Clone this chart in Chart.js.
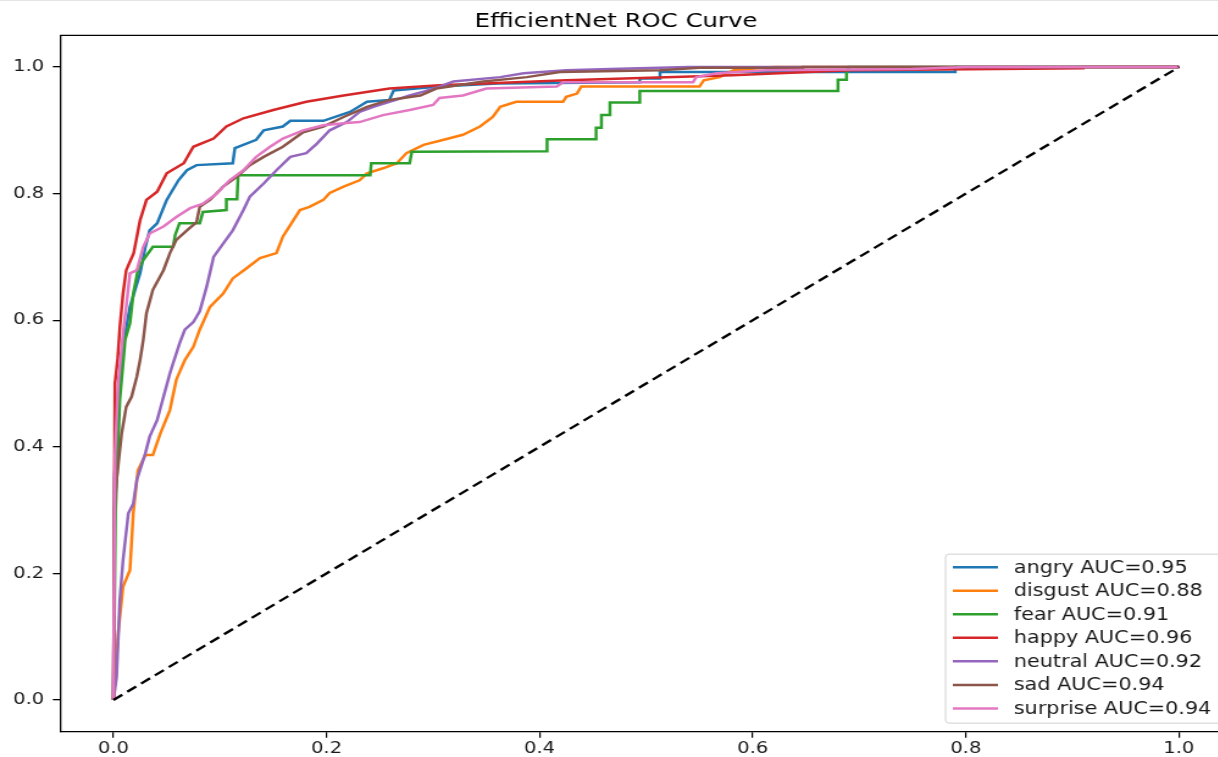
<!DOCTYPE html>
<html>
<head>
<meta charset="utf-8">
<script src="https://cdn.jsdelivr.net/npm/chart.js@4.4.0/dist/chart.umd.min.js"></script>
<style>
  html, body { margin: 0; padding: 0; background: #fff; overflow: hidden; }
  #wrap { position: absolute; left: 0; top: 0; width: 1020px; height: 757px; transform: scaleX(1.22); transform-origin: 0 0; }
  #topline { position: absolute; left: 0; top: 0; width: 1218px; height: 1px; background: #e4e4e4; }
</style>
</head>
<body>
<div id="wrap"><canvas id="roc" width="1020" height="757"></canvas></div>
<div id="topline"></div>
<script>
// class names and AUC values from the legend
const classNames = ['angry', 'disgust', 'fear', 'happy', 'neutral', 'sad', 'surprise'];
const aucValues = [0.95, 0.88, 0.91, 0.96, 0.92, 0.94, 0.94];
const lineColors = ['#1f77b4', '#ff7f0e', '#2ca02c', '#d62728', '#9467bd', '#8c564b', '#e377c2'];

const xTicks = [0.0, 0.2, 0.4, 0.6, 0.8, 1.0];
const yTicks = [0.0, 0.2, 0.4, 0.6, 0.8, 1.0];

// ROC points (false positive rate / true positive rate)
const angryFpr = [0, 0.001, 0.005, 0.010, 0.0155, 0.025, 0.030, 0.034, 0.041, 0.050, 0.061, 0.069, 0.078, 0.112, 0.114, 0.117, 0.134, 0.141, 0.159, 0.166, 0.197, 0.222, 0.238, 0.259, 0.263, 0.306, 0.360, 0.494, 0.494, 0.513, 0.513, 0.790, 0.790, 1];
const angryTpr = [0, 0.350, 0.500, 0.569, 0.621, 0.674, 0.716, 0.742, 0.753, 0.790, 0.821, 0.837, 0.845, 0.848, 0.872, 0.874, 0.885, 0.900, 0.906, 0.915, 0.915, 0.929, 0.945, 0.948, 0.963, 0.969, 0.974, 0.976, 0.982, 0.982, 0.992, 0.992, 1.0, 1];

const disgustFpr = [0, 0.0045, 0.009, 0.0155, 0.0186, 0.023, 0.030, 0.037, 0.044, 0.053, 0.059, 0.067, 0.075, 0.081, 0.0906, 0.103, 0.112, 0.125, 0.1375, 0.153, 0.159, 0.167, 0.175, 0.184, 0.197, 0.203, 0.216, 0.231, 0.238, 0.253, 0.266, 0.275, 0.291, 0.310, 0.328, 0.344, 0.356, 0.363, 0.378, 0.422, 0.425, 0.435, 0.439, 0.550, 0.554, 0.569, 0.582, 0.620, 1];
const disgustTpr = [0, 0.106, 0.179, 0.205, 0.295, 0.363, 0.387, 0.387, 0.421, 0.458, 0.506, 0.537, 0.558, 0.585, 0.621, 0.642, 0.666, 0.682, 0.698, 0.706, 0.732, 0.753, 0.774, 0.779, 0.790, 0.801, 0.811, 0.821, 0.832, 0.840, 0.848, 0.864, 0.877, 0.885, 0.893, 0.906, 0.921, 0.937, 0.945, 0.945, 0.953, 0.958, 0.969, 0.969, 0.979, 0.984, 0.995, 1.0, 1];

const fearFpr = [0, 0.002, 0.006, 0.011, 0.0155, 0.0186, 0.023, 0.028, 0.037, 0.056, 0.058, 0.062, 0.081, 0.084, 0.106, 0.106, 0.116, 0.117, 0.241, 0.242, 0.278, 0.280, 0.407, 0.407, 0.453, 0.453, 0.458, 0.458, 0.466, 0.466, 0.494, 0.494, 0.680, 0.680, 0.688, 0.688, 0.690, 1];
const fearTpr = [0, 0.300, 0.474, 0.569, 0.595, 0.642, 0.679, 0.695, 0.716, 0.716, 0.735, 0.753, 0.753, 0.771, 0.774, 0.791, 0.791, 0.829, 0.829, 0.848, 0.848, 0.866, 0.867, 0.886, 0.886, 0.904, 0.904, 0.924, 0.924, 0.944, 0.944, 0.962, 0.962, 0.980, 0.980, 0.990, 1.0, 1];

const happyFpr = [0, 0.001, 0.0014, 0.004, 0.0061, 0.009, 0.012, 0.019, 0.025, 0.031, 0.041, 0.050, 0.066, 0.075, 0.094, 0.106, 0.122, 0.150, 0.181, 0.216, 0.259, 0.306, 0.425, 0.581, 0.691, 0.910, 0.910, 1];
const happyTpr = [0, 0.350, 0.500, 0.540, 0.590, 0.642, 0.679, 0.706, 0.758, 0.790, 0.803, 0.832, 0.848, 0.874, 0.887, 0.906, 0.919, 0.932, 0.945, 0.955, 0.966, 0.971, 0.979, 0.987, 0.995, 0.998, 1.0, 1];

const neutralFpr = [0, 0.003, 0.006, 0.009, 0.014, 0.0186, 0.022, 0.026, 0.030, 0.034, 0.041, 0.047, 0.053, 0.056, 0.062, 0.067, 0.075, 0.081, 0.0875, 0.094, 0.103, 0.112, 0.122, 0.128, 0.141, 0.153, 0.166, 0.181, 0.191, 0.203, 0.219, 0.231, 0.244, 0.259, 0.278, 0.291, 0.306, 0.319, 0.363, 0.385, 0.425, 0.466, 0.540, 1];
const neutralTpr = [0, 0.037, 0.158, 0.221, 0.295, 0.310, 0.348, 0.369, 0.390, 0.416, 0.442, 0.479, 0.516, 0.532, 0.563, 0.585, 0.597, 0.614, 0.653, 0.700, 0.721, 0.742, 0.774, 0.795, 0.816, 0.837, 0.858, 0.864, 0.879, 0.900, 0.913, 0.929, 0.937, 0.945, 0.955, 0.961, 0.969, 0.977, 0.984, 0.990, 0.995, 0.997, 1.0, 1];

const sadFpr = [0, 0.001, 0.003, 0.0077, 0.012, 0.017, 0.022, 0.025, 0.028, 0.031, 0.037, 0.047, 0.053, 0.059, 0.069, 0.078, 0.081, 0.0906, 0.103, 0.116, 0.128, 0.141, 0.159, 0.178, 0.197, 0.216, 0.238, 0.259, 0.288, 0.303, 0.347, 0.388, 0.419, 0.513, 0.550, 0.647, 0.647, 1];
const sadTpr = [0, 0.305, 0.348, 0.421, 0.463, 0.479, 0.511, 0.537, 0.569, 0.611, 0.648, 0.679, 0.706, 0.727, 0.742, 0.755, 0.779, 0.790, 0.811, 0.827, 0.845, 0.858, 0.874, 0.897, 0.906, 0.921, 0.937, 0.948, 0.955, 0.966, 0.977, 0.984, 0.992, 0.995, 0.999, 0.999, 1.0, 1];

const surpriseFpr = [0, 0.0014, 0.0045, 0.009, 0.012, 0.0155, 0.022, 0.028, 0.034, 0.047, 0.059, 0.072, 0.084, 0.097, 0.109, 0.122, 0.134, 0.147, 0.159, 0.178, 0.197, 0.216, 0.231, 0.253, 0.278, 0.300, 0.306, 0.328, 0.350, 0.416, 0.422, 0.544, 0.547, 0.566, 0.613, 0.750, 0.800, 1];
const surpriseTpr = [0, 0.384, 0.500, 0.579, 0.621, 0.674, 0.679, 0.716, 0.737, 0.748, 0.763, 0.777, 0.784, 0.800, 0.821, 0.837, 0.858, 0.874, 0.887, 0.900, 0.908, 0.911, 0.913, 0.924, 0.932, 0.940, 0.951, 0.955, 0.966, 0.969, 0.976, 0.976, 0.984, 0.990, 0.995, 0.997, 1.0, 1];

const chanceFpr = [0, 1];
const chanceTpr = [0, 1];

const fprLists = [angryFpr, disgustFpr, fearFpr, happyFpr, neutralFpr, sadFpr, surpriseFpr];
const tprLists = [angryTpr, disgustTpr, fearTpr, happyTpr, neutralTpr, sadTpr, surpriseTpr];

function toPoints(xs, ys) {
    return xs.map((x, i) => ({ x: x, y: ys[i] }));
}

const rocDatasets = classNames.map((name, i) => ({
    label: name + ' AUC=' + aucValues[i].toFixed(2),
    data: toPoints(fprLists[i], tprLists[i]),
    borderColor: lineColors[i],
    backgroundColor: lineColors[i],
    borderWidth: 2.5,
    pointRadius: 0,
    showLine: true,
    fill: false,
    order: 7 - i,
}));

rocDatasets.push({
    label: 'chance',
    data: toPoints(chanceFpr, chanceTpr),
    borderColor: '#000000',
    borderWidth: 2.3,
    borderDash: [9, 5],
    pointRadius: 0,
    showLine: true,
    fill: false,
    order: -1,
});

// top / right spines like matplotlib
const frameBox = {
    id: 'frameBox',
    afterDraw(chart) {
        const { ctx, chartArea } = chart;
        ctx.save();
        ctx.strokeStyle = '#000';
        ctx.lineWidth = 1.3;
        ctx.beginPath();
        ctx.moveTo(chartArea.left, chartArea.top);
        ctx.lineTo(chartArea.right, chartArea.top);
        ctx.lineTo(chartArea.right, chartArea.bottom);
        ctx.stroke();
        ctx.restore();
    }
};

// legend box in the lower right corner of the axes
const innerLegend = {
    id: 'innerLegend',
    afterDraw(chart) {
        const { ctx, chartArea } = chart;
        const items = chart.data.datasets.filter(d => d.label !== 'chance');
        const right = chartArea.right - 8.5;
        const bottom = chartArea.bottom - 8.5;
        const left = right - 226.5;
        const top = bottom - 169;
        ctx.save();
        ctx.beginPath();
        ctx.roundRect(left, top, right - left, bottom - top, 3);
        ctx.fillStyle = 'rgba(255,255,255,0.85)';
        ctx.fill();
        ctx.strokeStyle = '#d0d0d0';
        ctx.lineWidth = 1;
        ctx.stroke();
        ctx.font = '17px "DejaVu Sans"';
        ctx.textBaseline = 'middle';
        ctx.textAlign = 'left';
        items.forEach((d, i) => {
            const y = top + 13 + i * 23.55;
            ctx.strokeStyle = d.borderColor;
            ctx.lineWidth = 2.5;
            ctx.beginPath();
            ctx.moveTo(left + 6, y);
            ctx.lineTo(left + 43, y);
            ctx.stroke();
            ctx.fillStyle = '#1a1a1a';
            ctx.fillText(d.label, left + 56, y + 1);
        });
        ctx.restore();
    }
};

const tickFont = { family: 'DejaVu Sans', size: 16 };

new Chart(document.getElementById('roc'), {
    type: 'scatter',
    data: { datasets: rocDatasets },
    options: {
        responsive: false,
        animation: false,
        layout: { padding: { left: 0, right: 10, top: 0, bottom: 0 } },
        plugins: {
            legend: { display: false },
            tooltip: { enabled: false },
            title: {
                display: true,
                text: 'EfficientNet ROC Curve',
                color: '#000',
                font: { family: 'DejaVu Sans', size: 20, weight: 'normal', lineHeight: 1.2 },
                padding: { top: 10, bottom: 1.35 },
            },
        },
        scales: {
            x: {
                type: 'linear',
                min: -0.05,
                max: 1.05,
                afterBuildTicks: (scale) => { scale.ticks = xTicks.map(v => ({ value: v })); },
                afterFit: (scale) => { scale.height = 25.35; },
                grid: { display: true, drawOnChartArea: false, drawTicks: true, tickLength: 6, color: '#000', lineWidth: 1.2 },
                border: { display: true, color: '#000', width: 1.3 },
                ticks: {
                    font: tickFont, color: '#1a1a1a', padding: 2, maxRotation: 0, autoSkip: false,
                    callback: (v) => Number(v).toFixed(1),
                },
            },
            y: {
                type: 'linear',
                min: -0.05,
                max: 1.05,
                afterBuildTicks: (scale) => { scale.ticks = yTicks.map(v => ({ value: v })); },
                afterFit: (scale) => { scale.width = 49.3; },
                grid: { display: true, drawOnChartArea: false, drawTicks: true, tickLength: 6, color: '#000', lineWidth: 1.3 },
                border: { display: true, color: '#000', width: 1.3 },
                ticks: {
                    font: tickFont, color: '#1a1a1a', padding: 7, autoSkip: false,
                    callback: (v) => Number(v).toFixed(1),
                },
            },
        },
    },
    plugins: [frameBox, innerLegend],
});
</script>
</body>
</html>
